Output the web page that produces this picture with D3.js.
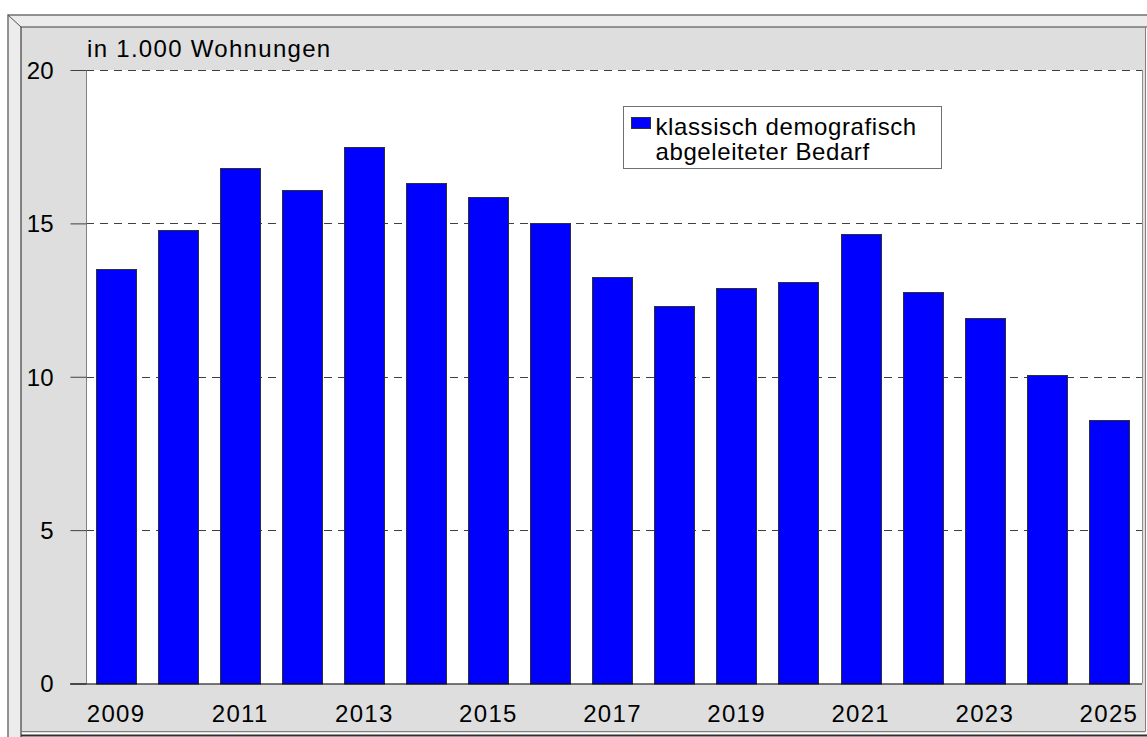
<!DOCTYPE html>
<html>
<head>
<meta charset="utf-8">
<script src="https://cdn.jsdelivr.net/npm/d3@7"></script>
<style>
  body { margin: 0; background: #fff; }
  svg text { font-family: "Liberation Sans", Arial, sans-serif; fill: #000; }
</style>
</head>
<body>
<div class="chart"></div>
<script>
// data
years = ["2009","2010","2011","2012","2013","2014","2015","2016","2017",
         "2018","2019","2020","2021","2022","2023","2024","2025"]
bedarf = [13.5, 14.8, 16.8, 16.1, 17.5, 16.3, 15.85, 15.0, 13.25,
          12.3, 12.9, 13.1, 14.65, 12.75, 11.9, 10.05, 8.6]
yTicks = [0, 5, 10, 15, 20]
xLabels = ["2009","2011","2013","2015","2017","2019","2021","2023","2025"]
seriesName = ["klassisch demografisch", "abgeleiteter Bedarf"]
unitLabel = "in 1.000 Wohnungen"

width = 1147
height = 737
margin = ({top: 70, right: 5, bottom: 53, left: 86})

svg = d3.select('.chart').append('svg')
    .attr("width", width)
    .attr("height", height)

// 3d frame: top + left faces light, front face grey
svg.append("path")
    .attr("d", "M8,15 L1147,15 L1147,27 L21,27 L21,737 L8,737 Z")
    .attr("fill", "#ececec")
svg.append("rect")
    .attr("x", 21).attr("y", 27)
    .attr("width", 1124).attr("height", 706)
    .attr("fill", "#dedede")
svg.append("path")
    .attr("d", "M8,737 L8,15 L1147,15")
    .attr("fill", "none").attr("stroke", "#707070").attr("stroke-width", 1.5)
svg.append("path")
    .attr("d", "M8,15 L21,27")
    .attr("stroke", "#505050").attr("stroke-width", 1)
svg.append("path")
    .attr("d", "M21,737 L21,27 L1147,27")
    .attr("fill", "none").attr("stroke", "#404040").attr("stroke-width", 1.2)
svg.append("path")
    .attr("d", "M21,731.5 L1145.5,731.5 L1145.5,27")
    .attr("fill", "none").attr("stroke", "#808080").attr("stroke-width", 1)
svg.append("path")
    .attr("d", "M21,735.5 L1147,735.5")
    .attr("fill", "none").attr("stroke", "#303030").attr("stroke-width", 2)

scaleX = d3.scaleBand()
    .domain(years)
    .range([margin.left, 1139])
    .paddingInner(0.35)
    .paddingOuter(0.16)

scaleY = d3.scaleLinear()
    .domain([0, 20])
    .range([height - margin.bottom - 0.5, margin.top])

// plot area
svg.append("rect")
    .attr("x", margin.left)
    .attr("y", margin.top)
    .attr("width", width - margin.right - margin.left)
    .attr("height", scaleY(0) - margin.top)
    .attr("fill", "#fff")
svg.append("line")
    .attr("x1", width - margin.right + 0.5).attr("x2", width - margin.right + 0.5)
    .attr("y1", margin.top).attr("y2", scaleY(0))
    .attr("stroke", "#909090")

// gridlines
svg.append("g")
    .selectAll("line")
    .data(yTicks.filter(d => d > 0))
    .join("line")
    .attr("x1", margin.left)
    .attr("x2", width - margin.right)
    .attr("y1", d => Math.round(scaleY(d)) + 0.5)
    .attr("y2", d => Math.round(scaleY(d)) + 0.5)
    .attr("stroke", "#404040")
    .attr("stroke-dasharray", "8,6")

// bars
svg.append("g")
    .selectAll("rect")
    .data(bedarf)
    .join("rect")
    .attr("x", (d, i) => Math.round(scaleX(years[i])) + 0.5)
    .attr("y", d => Math.round(scaleY(d)) + 0.5)
    .attr("width", Math.round(scaleX.bandwidth()))
    .attr("height", d => scaleY(0) - Math.round(scaleY(d)))
    .attr("fill", "#0000ff")
    .attr("stroke", "#303030")
    .attr("stroke-width", 1)

// y axis
yAxis = g => g
    .attr("transform", `translate(${margin.left + 0.5}, 0)`)
    .call(d3.axisLeft(scaleY).tickValues(yTicks).tickSize(16).tickPadding(17))
    .call(g => g.select(".domain").attr("stroke", "#808080").attr("d", `M0,${margin.top}V${scaleY(0)}`))
    .call(g => g.selectAll(".tick line").attr("stroke", "#404040"))
    .call(g => g.selectAll("text").style("font-size", "24px").attr("dy", "0.35em"))
svg.append("g").call(yAxis)

// zero line
svg.append("line")
    .attr("x1", margin.left - 16).attr("x2", width - margin.right)
    .attr("y1", scaleY(0) + 0.5).attr("y2", scaleY(0) + 0.5)
    .attr("stroke", "#000")

// x axis
xAxis = g => g
    .attr("transform", `translate(0, ${scaleY(0)})`)
    .call(d3.axisBottom(scaleX).tickValues(xLabels).tickSize(0).tickPadding(21))
    .call(g => g.select(".domain").remove())
    .call(g => g.selectAll("text").style("font-size", "24px").style("letter-spacing", "1.3px"))
svg.append("g").call(xAxis)

// unit label
svg.append("text")
    .attr("x", margin.left + 1)
    .attr("y", 57)
    .style("font-size", "24px")
    .style("letter-spacing", "1.3px")
    .text(unitLabel)

// legend
legend = svg.append("g").attr("transform", "translate(623.5, 106.5)")
legend.append("rect")
    .attr("width", 318).attr("height", 62)
    .attr("fill", "#fff").attr("stroke", "#707070")
legend.append("rect")
    .attr("x", 8).attr("y", 11).attr("width", 19).attr("height", 11)
    .attr("fill", "#0000ff").attr("stroke", "#303030")
legend.selectAll("text.lg")
    .data(seriesName)
    .join("text")
    .attr("class", "lg")
    .attr("x", 32)
    .attr("y", (d, i) => 28 + i * 25)
    .style("font-size", "24px")
    .style("letter-spacing", "0.6px")
    .text(d => d)
</script>
</body>
</html>
